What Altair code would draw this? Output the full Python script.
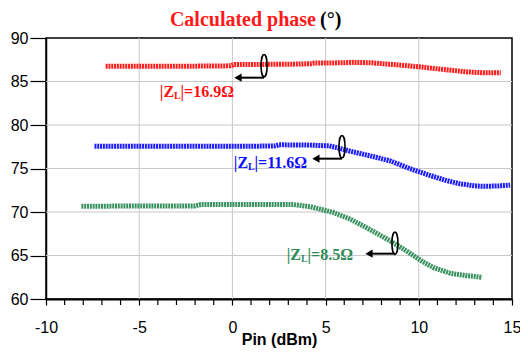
import altair as alt
import pandas as pd

# ---- data ----
red_x = [-6.8, -5, -3, -1, -0.1, 0.1, 2, 3.5, 4.2, 4.4, 6, 6.5, 7.5, 8.3, 9.2, 10, 10.8, 11.5, 12.6, 13.5, 14.4]
red_y = [86.75, 86.75, 86.75, 86.78, 86.8, 86.95, 86.97, 87.0, 87.05, 87.12, 87.15, 87.2, 87.15, 87.0, 86.85, 86.7, 86.5, 86.35, 86.1, 86.0, 86.0]

blue_x = [-7.4, -5, -2, 1, 2.3, 2.5, 4, 5.2, 5.6, 6.3, 7.5, 8.5, 9.5, 10.6, 11.5, 12.2, 13, 13.5, 14.3, 14.9]
blue_y = [77.55, 77.55, 77.55, 77.55, 77.6, 77.72, 77.7, 77.6, 77.4, 77.0, 76.4, 75.85, 75.0, 74.2, 73.6, 73.25, 73.0, 72.95, 73.0, 73.1]

green_x = [-8.1, -5, -2, -1.7, 0, 2, 3.3, 4.2, 5.4, 6.3, 7.2, 8.45, 9.5, 10.2, 10.8, 11.7, 12.5, 13.4]
green_y = [70.65, 70.7, 70.7, 70.85, 70.85, 70.85, 70.85, 70.6, 69.95, 69.2, 68.2, 66.7, 65.3, 64.3, 63.6, 62.95, 62.7, 62.5]

series_names = ["16.9", "11.6", "8.5"]
series_colors = ["#ff1010", "#1010ff", "#2e8b57"]
label_colors = ["#ff1a1a", "#1a1aff", "#22903a"]

# annotation anchors (data coords)
ell_x = [1.70, 5.88, 8.72]
ell_y = [86.82, 77.5, 66.41]
arrow_y = [85.44, 76.13, 65.21]
arrow_x_end = [0.30, 4.48, 7.33]
lab_x = [-3.13, 0.84, 3.68]
lab_y = [83.83, 75.67, 65.09]

x_major = [-10, -5, 0, 5, 10, 15]
x_minor = [v for v in range(-10, 16) if v % 5 != 0]
y_ticks = [60, 65, 70, 75, 80, 85, 90]

# ---- build tables ----
rows = []
for name, xs, ys in zip(series_names, [red_x, blue_x, green_x], [red_y, blue_y, green_y]):
    for i, (a, b) in enumerate(zip(xs, ys)):
        rows.append({"series": name, "x": a, "y": b, "order": i})
df = pd.DataFrame(rows)

ann = pd.DataFrame({
    "series": series_names,
    "ex": ell_x, "ey": ell_y, "ay": arrow_y, "ax2": arrow_x_end,
    "lx": lab_x, "ly": lab_y,
    "rest": ["|=" + n + "Ω" for n in series_names],
})

xscale = alt.Scale(domain=[-10, 15], nice=False, zero=False)
yscale = alt.Scale(domain=[60, 90], nice=False, zero=False)
color = alt.Color("series:N", scale=alt.Scale(domain=series_names, range=series_colors), legend=None)
lcolor = alt.Color("series:N", scale=alt.Scale(domain=series_names, range=label_colors), legend=None)

base = alt.Chart(df)

grid_x = alt.Chart(pd.DataFrame({"v": [-5, 0, 5, 10]})).mark_rule(color="#c8c8c8", strokeWidth=1).encode(
    x=alt.X("v:Q", scale=xscale))
grid_y = alt.Chart(pd.DataFrame({"v": [65, 70, 75, 80, 85]})).mark_rule(color="#c8c8c8", strokeWidth=1).encode(
    y=alt.Y("v:Q", scale=yscale))
minor = alt.Chart(pd.DataFrame({"v": x_minor})).mark_rule(color="black", strokeWidth=1.2).encode(
    x=alt.X("v:Q", scale=xscale), y=alt.value(261), y2=alt.value(267))

lines = base.mark_line(strokeWidth=5, strokeDash=[2, 0.8], opacity=0.95).encode(
    x=alt.X("x:Q", scale=xscale,
            axis=alt.Axis(title="Pin (dBm)", values=x_major,
                          labelExpr="'' + datum.value",
                          labelOverlap=False, grid=False, tickSize=6, tickColor="black", tickWidth=1.2,
                          domainColor="black", domainWidth=2, labelFont="Liberation Sans",
                          labelFontSize=16, labelColor="black", labelPadding=14,
                          titleFont="Liberation Sans", titleFontSize=16, titleFontWeight="bold",
                          titleColor="black", titleBaseline="alphabetic", titleY=45,
                          labelFlush=False)),
    y=alt.Y("y:Q", scale=yscale,
            axis=alt.Axis(title=None, values=y_ticks, grid=False, tickSize=16, tickColor="black",
                          tickWidth=1.2, domainColor="black", domainWidth=1.5, labelOverlap=False,
                          labelExpr="'' + datum.value",
                          labelFont="Liberation Sans", labelFontSize=16, labelColor="black",
                          labelPadding=2)),
    color=color,
    detail="series:N",
    order="order:Q",
)

ann_base = alt.Chart(ann)
ellipse = ann_base.mark_point(
    shape="M0,-1 A0.27,1 0 1,1 0,1 A0.27,1 0 1,1 0,-1 Z",
    size=500, filled=False, stroke="black", strokeWidth=1.6, opacity=1).encode(
    x=alt.X("ex:Q", scale=xscale), y=alt.Y("ey:Q", scale=yscale))
arrow_line = ann_base.mark_rule(color="black", strokeWidth=2).encode(
    x=alt.X("ex:Q", scale=xscale), x2="ax2:Q", y=alt.Y("ay:Q", scale=yscale))
arrow_head = ann_base.mark_point(shape="triangle-left", size=70, filled=True, color="black", opacity=1).encode(
    x=alt.X("ax2:Q", scale=xscale), y=alt.Y("ay:Q", scale=yscale))

tfont = "Liberation Serif"
lab_z = ann_base.mark_text(text="|Z", align="right", baseline="middle", font=tfont, fontSize=16,
                           fontWeight="bold").encode(
    x=alt.X("lx:Q", scale=xscale), y=alt.Y("ly:Q", scale=yscale), color=lcolor)
lab_l = ann_base.mark_text(text="L", align="left", baseline="middle", font=tfont, fontSize=10,
                           fontWeight="bold", dy=4).encode(
    x=alt.X("lx:Q", scale=xscale), y=alt.Y("ly:Q", scale=yscale), color=lcolor)
lab_rest = ann_base.mark_text(align="left", baseline="middle", font=tfont, fontSize=16,
                              fontWeight="bold", dx=6.5).encode(
    x=alt.X("lx:Q", scale=xscale), y=alt.Y("ly:Q", scale=yscale), text="rest:N", color=lcolor)

title_df = pd.DataFrame({"t": ["Calculated phase"], "u": ["(°)"]})
title_red = alt.Chart(title_df).mark_text(align="right", baseline="middle", font=tfont, fontSize=20,
                                          fontWeight="bold", color="#ff1a1a").encode(
    x=alt.value(270), y=alt.value(-18), text="t:N")
title_blk = alt.Chart(title_df).mark_text(align="left", baseline="middle", font=tfont, fontSize=20,
                                          fontWeight="bold", color="black").encode(
    x=alt.value(274), y=alt.value(-18), text="u:N")

chart = alt.layer(grid_x, grid_y, minor, lines, ellipse, arrow_line, arrow_head, lab_z, lab_l, lab_rest,
                  title_red, title_blk).properties(
    width=466, height=261,
    autosize=alt.AutoSizeParams(type="none"),
    padding={"left": 38, "top": 30, "right": 8, "bottom": 50},
    background="white",
).configure_view(stroke="black", strokeWidth=1.5)

chart.save("out.html", embed_options={"renderer": "svg", "actions": False})
